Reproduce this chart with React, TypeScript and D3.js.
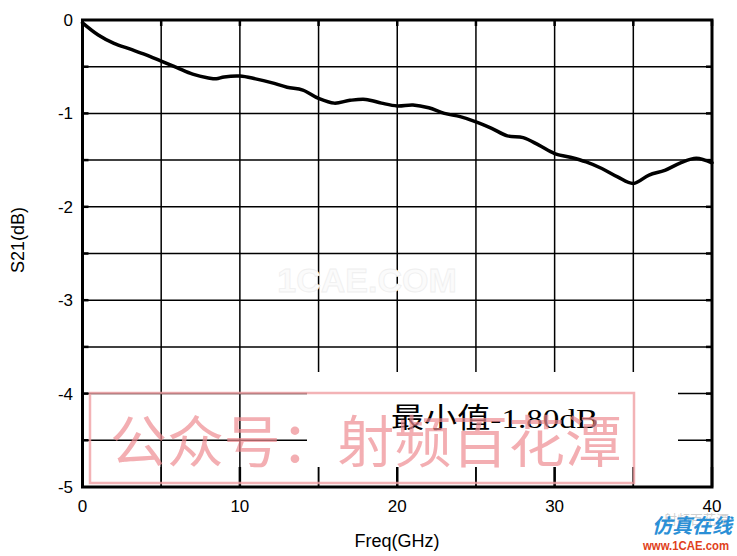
import React, { useEffect, useRef } from "react";
import * as d3 from "d3";

// frequency (GHz) and S21 (dB)
const freq = [0, 1, 2, 3, 4, 5, 6, 7, 8, 8.5, 9, 10, 11, 12, 13, 14, 15, 16, 17, 18, 19, 20, 21, 22, 23, 24, 25, 26, 27, 28, 29, 30, 31, 32, 33, 34, 35, 36, 37, 38, 39, 40];
const s21 = [-0.03, -0.16, -0.25, -0.31, -0.37, -0.44, -0.51, -0.58, -0.62, -0.63, -0.61, -0.6, -0.63, -0.67, -0.72, -0.75, -0.84, -0.89, -0.86, -0.85, -0.89, -0.92, -0.91, -0.94, -1.0, -1.035, -1.09, -1.16, -1.24, -1.26, -1.34, -1.43, -1.47, -1.52, -1.59, -1.68, -1.75, -1.66, -1.61, -1.53, -1.48, -1.53];

const xTickLabels = [0, 10, 20, 30, 40];
const yTickLabels = [0, -1, -2, -3, -4, -5];
const xGrid = [5, 10, 15, 20, 25, 30, 35];
const yGrid = [-0.5, -1, -1.5, -2, -2.5, -3, -3.5, -4, -4.5];

const annotation = "最小值-1.80dB";
const watermark = "公众号：射频百花潭";

const App: React.FC = () => {
    const svgRef = useRef<SVGSVGElement | null>(null);

    useEffect(() => {
        const svg = d3.select(svgRef.current);
        svg.selectAll("*").remove();

        const left = 82.5, right = 712, top = 20, bottom = 487;
        const x = d3.scaleLinear().domain([0, 40]).range([left, right]);
        const y = d3.scaleLinear().domain([-5, 0]).range([bottom, top]);
        const font = "'Liberation Sans', Arial, sans-serif";

        svg.append("rect").attr("width", 737).attr("height", 556).attr("fill", "#fff");

        // grid
        svg.append("g").selectAll("line").data(xGrid).join("line")
            .attr("x1", (d) => x(d)).attr("x2", (d) => x(d))
            .attr("y1", top).attr("y2", bottom)
            .attr("stroke", "#000").attr("stroke-width", 1.5);
        svg.append("g").selectAll("line").data(yGrid).join("line")
            .attr("x1", left).attr("x2", right)
            .attr("y1", (d) => y(d)).attr("y2", (d) => y(d))
            .attr("stroke", "#000").attr("stroke-width", 1.5);

        // faint site watermark
        svg.append("text").attr("x", 367).attr("y", 292).attr("text-anchor", "middle")
            .style("font-family", font).style("font-weight", "bold").style("font-size", "34px")
            .attr("fill", "#fbfbfb").attr("stroke", "#efefef").attr("stroke-width", 0.8)
            .text("1CAE.COM");

        // curve
        const line = d3.line<number>()
            .x((d, i) => x(freq[i]))
            .y((d) => y(d))
            .curve(d3.curveCatmullRom.alpha(0.5));
        svg.append("path").datum(s21)
            .attr("fill", "none").attr("stroke", "#000").attr("stroke-width", 3.5)
            .attr("stroke-linejoin", "round").attr("stroke-linecap", "round")
            .attr("d", line);

        // inside ticks on the frame
        const tk = [0, 5, 10, 15, 20, 25, 30, 35, 40];
        svg.append("g").selectAll("line").data(tk).join("line")
            .attr("x1", (d) => x(d)).attr("x2", (d) => x(d))
            .attr("y1", top).attr("y2", top + 6)
            .attr("stroke", "#000").attr("stroke-width", 2.5);
        const tky = [-0.5, -1, -1.5, -2, -2.5, -3, -3.5, -4, -4.5];
        svg.append("g").selectAll("line").data(tky).join("line")
            .attr("x1", right - 6).attr("x2", right)
            .attr("y1", (d) => y(d)).attr("y2", (d) => y(d))
            .attr("stroke", "#000").attr("stroke-width", 2.5);
        svg.append("g").selectAll("line").data(tky).join("line")
            .attr("x1", left).attr("x2", left + 6)
            .attr("y1", (d) => y(d)).attr("y2", (d) => y(d))
            .attr("stroke", "#000").attr("stroke-width", 2.5);

        // white box over the lower grid
        svg.append("rect").attr("x", 307).attr("y", 372).attr("width", 371).attr("height", 95).attr("fill", "#fff");

        // bottom ticks (gridline stubs)
        svg.append("g").selectAll("line").data(tk).join("line")
            .attr("x1", (d) => x(d)).attr("x2", (d) => x(d))
            .attr("y1", bottom - 20).attr("y2", bottom)
            .attr("stroke", "#000").attr("stroke-width", (d) => (d % 10 === 0 ? 2.5 : 1.5));

        // frame
        svg.append("rect").attr("x", left).attr("y", top)
            .attr("width", right - left).attr("height", bottom - top)
            .attr("fill", "none").attr("stroke", "#000").attr("stroke-width", 3);

        // tick labels
        svg.append("g").selectAll("text").data(xTickLabels).join("text")
            .attr("x", (d) => x(d)).attr("y", 512).attr("text-anchor", "middle")
            .style("font-family", font).style("font-size", "17px").text((d) => d);
        svg.append("g").selectAll("text").data(yTickLabels).join("text")
            .attr("x", 73).attr("y", (d) => y(d) + 6).attr("text-anchor", "end")
            .style("font-family", font).style("font-size", "17px").text((d) => d);

        // axis titles
        svg.append("text").attr("x", 397).attr("y", 547).attr("text-anchor", "middle")
            .style("font-family", font).style("font-size", "18px").text("Freq(GHz)");
        svg.append("text").attr("transform", "translate(24,240) rotate(-90)").attr("text-anchor", "middle")
            .style("font-family", font).style("font-size", "18px").text("S21(dB)");

        // annotation
        svg.append("text").attr("x", 391).attr("y", 428)
            .style("font-family", "'Liberation Serif', 'Noto Sans CJK SC', serif").style("font-size", "28px")
            .attr("textLength", 207).attr("lengthAdjust", "spacingAndGlyphs")
            .text(annotation);

        // pink watermark
        svg.append("rect").attr("x", 90).attr("y", 393).attr("width", 544).attr("height", 90)
            .attr("fill", "none").attr("stroke", "#f0a0a4").attr("stroke-opacity", 0.8).attr("stroke-width", 2.5);
        svg.append("text").attr("x", 110).attr("y", 462)
            .style("font-family", "'Noto Sans CJK SC', sans-serif").style("font-size", "56px")
            .attr("textLength", 512).attr("lengthAdjust", "spacingAndGlyphs")
            .attr("fill", "#ee8c92").attr("fill-opacity", 0.7)
            .text(watermark);

        // corner logo
        svg.append("text").attr("x", 664).attr("y", 524)
            .style("font-family", "'Noto Sans CJK SC', sans-serif").style("font-size", "13px")
            .attr("fill", "#b0b0b0").attr("fill-opacity", 0.6).text("射频百花潭");
        svg.append("text").attr("x", 652).attr("y", 533)
            .style("font-family", "'Noto Sans CJK SC', sans-serif").style("font-size", "20px").style("font-weight", "bold").style("font-style", "italic")
            .attr("fill", "#2a8fd6").text("仿真在线");
        svg.append("text").attr("x", 643).attr("y", 550)
            .style("font-family", font).style("font-size", "12.5px").style("font-weight", "bold")
            .attr("textLength", 86).attr("lengthAdjust", "spacingAndGlyphs")
            .attr("fill", "#e0401a").text("www.1CAE.com");
    }, []);

    return (
        <div>
            <svg ref={svgRef} width={737} height={556} style={{ position: "absolute", left: 0, top: 0 }}></svg>
        </div>
    );
};

export default App;
